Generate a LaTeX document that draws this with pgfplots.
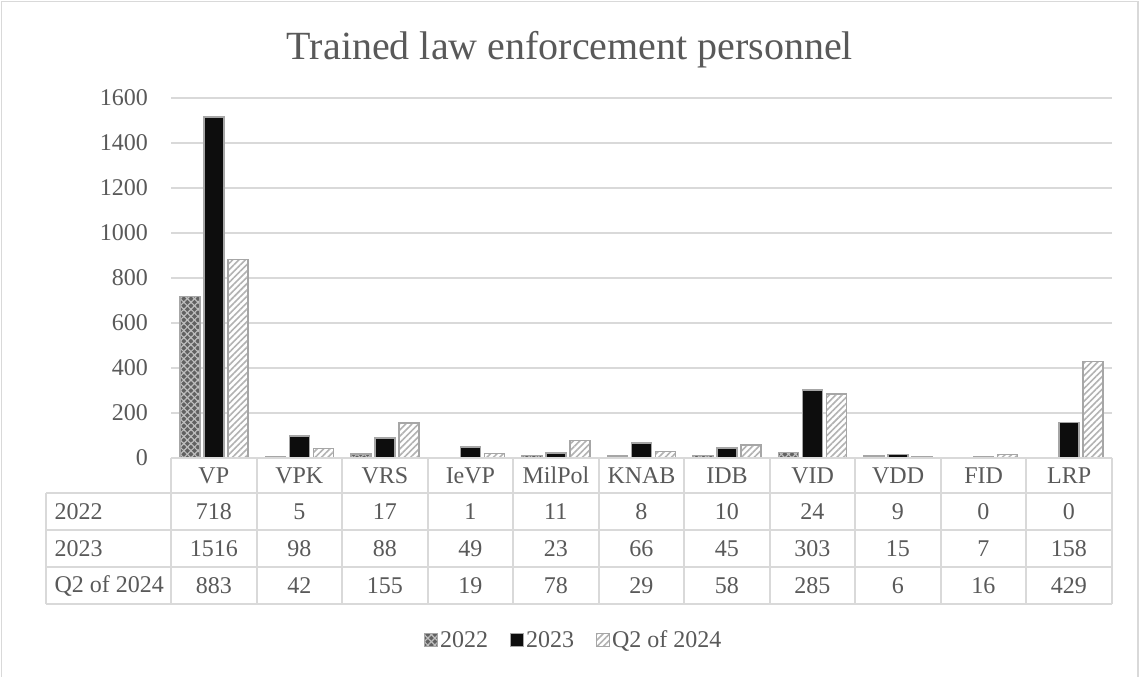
\documentclass[border=0pt]{standalone}
\usepackage{pgfplots}
\pgfplotsset{compat=1.18}
\usepackage{fontspec}
\setmainfont{Liberation Serif}
\usetikzlibrary{patterns,patterns.meta}
\definecolor{txt}{HTML}{595959}
\definecolor{gridc}{HTML}{D9D9D9}
\definecolor{bord}{HTML}{A6A6A6}
\definecolor{blk}{HTML}{0D0D0D}
\begin{document}
\begin{tikzpicture}[x=1pt,y=1pt]
\useasboundingbox (0,0) rectangle (1140,677);
\draw[gridc,line width=1.5pt] (1.5,-2) -- (1.5,675.5) -- (1138,675.5) -- (1138,-2);
\node[txt,font=\fontsize{40}{48}\selectfont] at (570,627) {Trained law enforcement personnel};
\begin{axis}[
  at={(171pt,219pt)}, anchor=south west,
  scale only axis, width=941pt, height=360pt,
  ybar=4pt, bar width=20pt,
  xmin=-0.5, xmax=10.5, ymin=0, ymax=1600,
  enlargelimits=false,
  ytick={0,200,...,1600},
  xtick={0,...,10},
  xticklabels={VP,VPK,VRS,IeVP,MilPol,KNAB,IDB,VID,VDD,FID,LRP},
  axis line style={draw=none},
  major tick length=0pt,
  ymajorgrids, xmajorgrids=false,
  major grid style={draw=gridc,line width=1.5pt},
  tick label style={txt,font=\fontsize{24}{28}\selectfont},
  /pgf/number format/assume math mode=true,
  /pgf/number format/1000 sep={},
  yticklabel style={anchor=east,inner sep=0pt,xshift=-23pt},
  xticklabel style={anchor=center,inner sep=0pt,yshift=-17.5pt},
  legend style={at={(0.428,-0.5056)},anchor=center,draw=none,fill=none,
    legend columns=3,font=\fontsize{24}{28}\selectfont,text=txt,
    /tikz/every even column/.append style={column sep=20pt}},
  legend image code/.code={\draw[#1,line width=1pt] (0pt,-6.5pt) rectangle (13pt,6.5pt);},
]
\addplot[fill=black!62, draw=bord, line width=1.5pt,
  postaction={pattern={Lines[angle=45,distance=5pt,line width=1.2pt]}, pattern color=white!75!black},
  postaction={pattern={Lines[angle=-45,distance=5pt,line width=1.2pt]}, pattern color=white!75!black}]
  coordinates {(0,718) (1,5) (2,17) (3,1) (4,11) (5,8) (6,10) (7,24) (8,9) (9,0) (10,0)};
\addplot[fill=blk, draw=bord, line width=1.5pt]
  coordinates {(0,1516) (1,98) (2,88) (3,49) (4,23) (5,66) (6,45) (7,303) (8,15) (9,7) (10,158)};
\addplot[fill=white, draw=bord, line width=1.5pt,
  postaction={pattern={Lines[angle=45,distance=4.5pt,line width=1.6pt]}, pattern color=black!30}]
  coordinates {(0,883) (1,42) (2,155) (3,19) (4,78) (5,29) (6,58) (7,285) (8,6) (9,16) (10,429)};
\legend{2022,2023,Q2 of 2024}
\end{axis}
% data table
\begin{scope}[draw=gridc,line width=2pt]
\draw (171,219) -- (1112,219);
\foreach \yy in {184,147,110,73} \draw (46,\yy) -- (1112,\yy);
\foreach \cc in {171,256.5,342,427.5,513,598.5,684,769.5,855,940.5,1026,1111.5}
  \draw (\cc,219) -- (\cc,73);
\draw (46,184) -- (46,73);
\end{scope}
\begin{scope}[txt,font=\fontsize{24}{28}\selectfont]
\node[anchor=west] at (51,165.5) {2022};
\node[anchor=west] at (51,128.5) {2023};
\node[anchor=west] at (51,91.5) {Q2 of 2024};
\foreach \v [count=\i from 0] in {718,5,17,1,11,8,10,24,9,0,0}
  \node at ({213.75+85.5*\i},165.5) {\v};
\foreach \v [count=\i from 0] in {1516,98,88,49,23,66,45,303,15,7,158}
  \node at ({213.75+85.5*\i},128.5) {\v};
\foreach \v [count=\i from 0] in {883,42,155,19,78,29,58,285,6,16,429}
  \node at ({213.75+85.5*\i},91.5) {\v};
\end{scope}
\end{tikzpicture}
\end{document}
